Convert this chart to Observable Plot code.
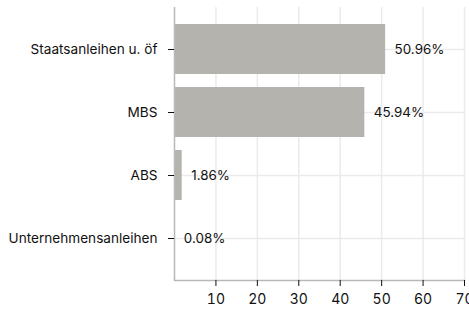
<!DOCTYPE html>
<html>
<head>
<meta charset="utf-8">
<script src="https://cdn.jsdelivr.net/npm/d3@7"></script>
<script src="https://cdn.jsdelivr.net/npm/@observablehq/plot@0.6"></script>
<style>
  html, body { margin: 0; padding: 0; background: #fff; }
  #chart svg { font-family: Inter, "Liberation Sans", sans-serif; }
</style>
</head>
<body>
<div id="chart"></div>
<script>
const categories = ["Staatsanleihen u. öf", "MBS", "ABS", "Unternehmensanleihen"];
const values = [50.96, 45.94, 1.86, 0.08];
const labels = ["50.96%", "45.94%", "1.86%", "0.08%"];
const xTicks = [10, 20, 30, 40, 50, 60, 70];

const data = categories.map((c, i) => ({category: c, value: values[i], label: labels[i]}));

const chart = Plot.plot({
  width: 469,
  height: 313,
  marginLeft: 174,
  marginRight: 5,
  marginTop: 7,
  marginBottom: 33,
  style: {fontSize: "13.6px", fontFamily: "Inter, sans-serif", color: "#111"},
  x: {domain: [0, 70], ticks: xTicks, label: null},
  y: {domain: categories, range: [11, 276], padding: 0.2, label: null},
  marks: [
    Plot.gridX(xTicks, {stroke: "#ebebeb", strokeOpacity: 1, strokeWidth: 1.5}),
    Plot.gridY({stroke: "#ebebeb", strokeOpacity: 1, strokeWidth: 1.5}),
    Plot.barX(data, {x: "value", y: "category", fill: "#b4b3ae"}),
    Plot.text(data, {x: "value", y: "category", text: "label", textAnchor: "start", dx: 9, fill: "#111", fontSize: 13.4}),
    Plot.ruleX([0], {stroke: "#b9b8b4", strokeWidth: 1.5}),
    Plot.frame({anchor: "bottom", stroke: "#b9b8b4", strokeWidth: 1.5}),
    Plot.axisY({tickSize: 6, tickPadding: 11, stroke: "#111", fill: "#111", fontSize: 13.6}),
    Plot.axisX(xTicks, {tickSize: 6, tickPadding: 8, fill: "#111", fontSize: 14})
  ]
});
document.getElementById("chart").appendChild(chart);
</script>
</body>
</html>
